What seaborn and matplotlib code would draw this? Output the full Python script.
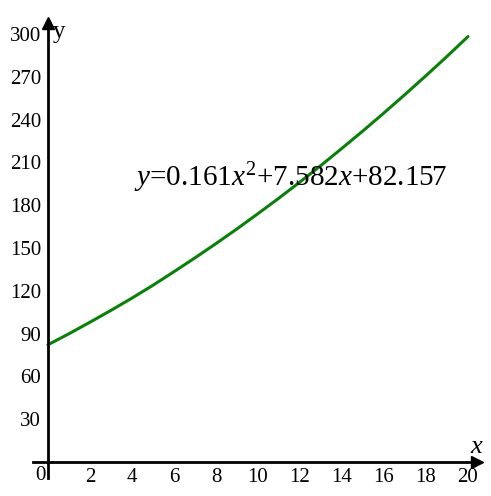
import numpy as np
import pandas as pd
import matplotlib
matplotlib.use("Agg")
import matplotlib.pyplot as plt
import seaborn as sns

# values
x_vals = [0, 1, 2, 3, 4, 5, 6, 7, 8, 9, 10, 11, 12, 13, 14, 15, 16, 17, 18, 19, 20]
y_vals = [82.2, 89.9, 98.0, 106.3, 114.9, 123.9, 133.4, 143.1, 153.1, 163.4, 174.1,
          185.0, 196.3, 207.9, 219.9, 232.1, 244.7, 257.6, 270.8, 284.3, 298.2]
x_ticks = [2, 4, 6, 8, 10, 12, 14, 16, 18, 20]
y_ticks = [30, 60, 90, 120, 150, 180, 210, 240, 270, 300]
equation = r"$y$=0.161$x^{2}$+7.582$x$+82.157"

sns.set_theme(style="white")
plt.rcParams["font.family"] = ["Liberation Serif", "DejaVu Serif"]
plt.rcParams["mathtext.fontset"] = "custom"
plt.rcParams["mathtext.rm"] = "Liberation Serif"
plt.rcParams["mathtext.it"] = "Liberation Serif:italic"

fig = plt.figure(figsize=(4.91, 4.96), dpi=100)
ax = fig.add_axes([0, 0, 1, 1])
ax.patch.set_alpha(0)

df = pd.DataFrame({"x": x_vals, "y": y_vals})
sns.lineplot(data=df, x="x", y="y", color="#0a800a", linewidth=2.2, ax=ax)

ax.set_xlim(-48 / 21, (491 - 48) / 21)
ax.set_ylim(-34 / 1.4267, 462 / 1.4267)

for s in ["top", "right"]:
    ax.spines[s].set_visible(False)
ax.spines["left"].set_position(("data", 0))
ax.spines["bottom"].set_position(("data", 0))
ax.spines["left"].set_bounds(-11.2, 305)
ax.spines["bottom"].set_bounds(-0.71, 20.3)
for s in ["left", "bottom"]:
    ax.spines[s].set_linewidth(2)
    ax.spines[s].set_color("black")

ax.set_xticks(x_ticks)
ax.set_yticks(y_ticks)
ax.set_xticklabels([str(t) for t in x_ticks])
ax.set_yticklabels([str(t) for t in y_ticks])
ax.tick_params(axis="both", direction="inout", length=6, width=1.6, color="black",
               labelsize=15, labelcolor="black")
ax.tick_params(axis="x", pad=1)
ax.tick_params(axis="y", pad=2)
ax.set_xlabel("")
ax.set_ylabel("")

# arrow heads
ax.plot([20.45], [0], marker=">", color="black", markersize=8, clip_on=False)
ax.plot([0], [308], marker="^", color="black", markersize=8, clip_on=False)

ax.text(-0.1, -12.6, "0", ha="right", va="baseline", fontsize=15, color="black")
ax.text(0.22, 297, "y", ha="left", va="baseline", fontsize=18, color="black")
ax.text(20.1, 6.3, "x", ha="left", va="baseline", fontsize=19, style="italic", color="black")
ax.text(4.1, 193.5, equation, ha="left", va="baseline", fontsize=21, color="black")

fig.savefig("out.png", dpi=100)
